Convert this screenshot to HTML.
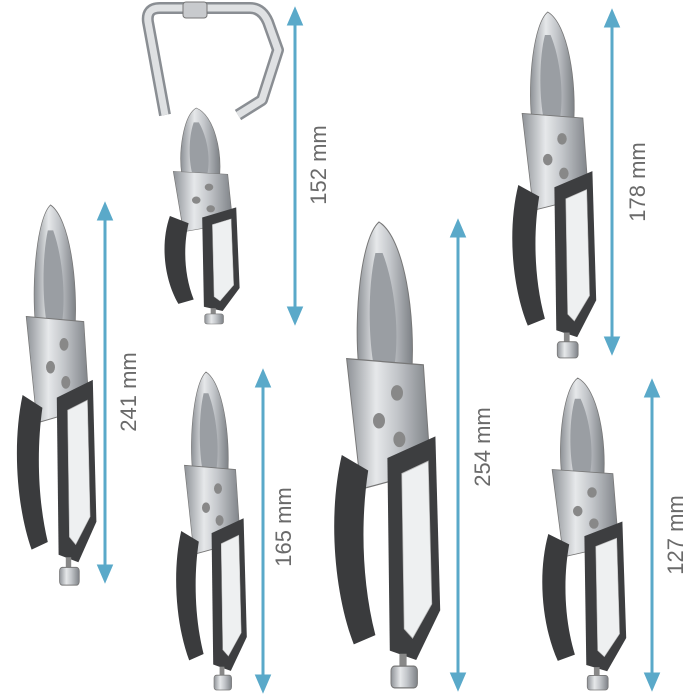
<!DOCTYPE html>
<html><head><meta charset="utf-8"><style>
html,body{margin:0;padding:0;background:#fff;}
svg{display:block}
text{font-family:"Liberation Sans",sans-serif;font-size:22px;fill:#6a6a6a;}
</style></head><body>
<svg width="700" height="700" viewBox="0 0 700 700" xmlns="http://www.w3.org/2000/svg">
<defs>
<linearGradient id="sil" x1="0" x2="1" y1="0" y2="0">
<stop offset="0" stop-color="#8e9297"/><stop offset="0.35" stop-color="#e6e8ea"/><stop offset="0.6" stop-color="#c3c6ca"/><stop offset="1" stop-color="#7d8186"/>
</linearGradient>
<g id="pl">
<path d="M45,0 C30,10 24,60 28,92 L72,100 C76,60 66,10 45,0 Z" fill="url(#sil)" stroke="#777" stroke-width="0.8"/>
<path d="M42,20 C36,40 36,70 40,90 L58,92 C62,70 58,40 48,20 Z" fill="#9a9ea3"/>
<path d="M18,88 L82,92 L88,160 L30,172 Z" fill="url(#sil)" stroke="#777" stroke-width="0.8"/>
<circle cx="60" cy="110" r="5" fill="#888"/><circle cx="45" cy="128" r="5" fill="#888"/><circle cx="62" cy="140" r="5" fill="#888"/>
<path d="M14,150 C2,190 8,240 24,272 L42,266 C30,230 30,190 36,160 Z" fill="#3a3b3d"/>
<path d="M52,152 L92,138 L96,250 L76,282 L54,276 Z" fill="#3d3e40"/>
<path d="M64,162 L86,154 L89,246 L73,268 L66,262 Z" fill="#eef0f1" stroke="#bbb" stroke-width="0.6"/>
<rect x="62" y="278" width="6" height="10" fill="#888"/>
<rect x="55" y="286" width="22" height="14" rx="3" fill="url(#sil)" stroke="#777" stroke-width="0.8"/>
</g>
</defs>

<!-- C clamp -->
<path d="M165,115 L148,22 Q146,8 160,8 L250,8 Q262,8 268,22 L278,50 L262,100 L238,115" fill="none" stroke="#8a8e93" stroke-width="12" stroke-linejoin="round"/>
<path d="M165,115 L148,22 Q146,8 160,8 L250,8 Q262,8 268,22 L278,50 L262,100 L238,115" fill="none" stroke="#dfe1e3" stroke-width="7" stroke-linejoin="round"/>
<rect x="183" y="2" width="24" height="16" rx="3" fill="#c8cacd" stroke="#777"/>
<use href="#pl" transform="translate(158,108) scale(0.85,0.72)"/>

<use href="#pl" transform="translate(505,12) scale(0.95,1.153)"/>
<use href="#pl" transform="translate(10,205) scale(0.9,1.267)"/>
<use href="#pl" transform="translate(325,222) scale(1.2,1.553)"/>
<use href="#pl" transform="translate(170,372) scale(0.8,1.06)"/>
<use href="#pl" transform="translate(535,378) scale(0.95,1.04)"/>

<!-- arrows -->
<g stroke="#5aa9c9" stroke-width="3" fill="#5aa9c9">
<line x1="295" y1="22" x2="295" y2="310"/><polygon points="289,24 301,24 295,10"/><polygon points="289,308 301,308 295,322"/>
<line x1="612" y1="24" x2="612" y2="340"/><polygon points="606,26 618,26 612,12"/><polygon points="606,338 618,338 612,352"/>
<line x1="105" y1="217" x2="105" y2="568"/><polygon points="99,219 111,219 105,205"/><polygon points="99,566 111,566 105,580"/>
<line x1="458" y1="234" x2="458" y2="676"/><polygon points="452,236 464,236 458,222"/><polygon points="452,674 464,674 458,688"/>
<line x1="263" y1="384" x2="263" y2="678"/><polygon points="257,386 269,386 263,372"/><polygon points="257,676 269,676 263,690"/>
<line x1="652" y1="394" x2="652" y2="676"/><polygon points="646,396 658,396 652,382"/><polygon points="646,674 658,674 652,688"/>
</g>
<text transform="translate(326,165) rotate(-90)" text-anchor="middle">152 mm</text>
<text transform="translate(645,182) rotate(-90)" text-anchor="middle">178 mm</text>
<text transform="translate(136,392) rotate(-90)" text-anchor="middle">241 mm</text>
<text transform="translate(490,447) rotate(-90)" text-anchor="middle">254 mm</text>
<text transform="translate(291,527) rotate(-90)" text-anchor="middle">165 mm</text>
<text transform="translate(683,535) rotate(-90)" text-anchor="middle">127 mm</text>
</svg>
</body></html>
